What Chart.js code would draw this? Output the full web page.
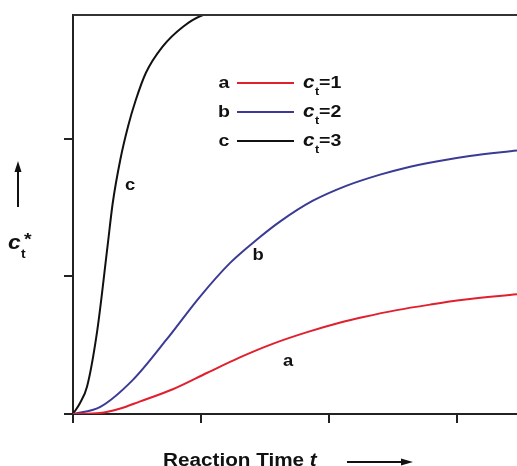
<!DOCTYPE html>
<html><head><meta charset="utf-8">
<script src="https://cdn.jsdelivr.net/npm/chart.js@4"></script>
<style>html,body{margin:0;padding:0;background:#fff}#wrap{width:517px;height:466px}</style>
</head><body><div id="wrap"><canvas id="c" width="517" height="466"></canvas></div>
<script>
// Data (x = reaction time in tick units, y = ct*)
const timeA = [0, 0.21, 0.37, 0.52, 0.78, 1.05, 1.30, 1.56, 1.83, 2.09, 2.27, 2.53, 2.79, 3.05, 3.47];
const valA  = [0, 0.007, 0.04, 0.09, 0.18, 0.30, 0.41, 0.51, 0.595, 0.665, 0.705, 0.755, 0.795, 0.83, 0.87];
const timeB = [0, 0.21, 0.47, 0.73, 0.99, 1.23, 1.44, 1.62, 1.875, 2.14, 2.40, 2.58, 2.84, 3.10, 3.47];
const valB  = [0, 0.05, 0.25, 0.54, 0.85, 1.10, 1.27, 1.40, 1.55, 1.66, 1.74, 1.785, 1.835, 1.875, 1.915];
const timeC = [0, 0.055, 0.11, 0.19, 0.27, 0.31, 0.37, 0.43, 0.49, 0.57, 0.70, 0.86, 1.016, 1.5, 2.5, 3.47];
const valC  = [0, 0.08, 0.2, 0.61, 1.22, 1.53, 1.85, 2.09, 2.28, 2.48, 2.67, 2.815, 2.90, 2.97, 3.0, 3.0];
const xTicks = [0, 1, 2, 3];
const yTicks = [0, 1, 2];
const seriesNames = ['a', 'b', 'c'];
const seriesParams = ['1', '2', '3'];
const colors = ['#e0202e', '#3b3b96', '#111111'];

const pts = (xs, ys) => xs.map((x, i) => ({x, y: ys[i]}));
const FONT = '"Liberation Sans", Arial, sans-serif';
const SX = 1.15; // horizontal stretch of the lettering

function txt(ctx, s, x, y, font, align) {
  ctx.save();
  ctx.font = font; ctx.textAlign = align || 'left';
  ctx.translate(x, y); ctx.scale(SX, 1);
  ctx.fillText(s, 0, 0);
  const w = ctx.measureText(s).width * SX;
  ctx.restore();
  return w;
}

const annot = {
  id: 'annot',
  afterDraw(chart) {
    const ctx = chart.ctx, a = chart.chartArea;
    ctx.save();
    ctx.strokeStyle = '#333'; ctx.lineWidth = 2;
    ctx.beginPath(); ctx.moveTo(a.left, a.top); ctx.lineTo(a.right, a.top); ctx.stroke();
    ctx.fillStyle = '#111';
    ctx.textBaseline = 'middle';
    // curve labels
    txt(ctx, 'c', 130, 186, 'bold 16px ' + FONT, 'center');
    txt(ctx, 'b', 258, 256, 'bold 16px ' + FONT, 'center');
    txt(ctx, 'a', 288, 362, 'bold 16px ' + FONT, 'center');
    // legend
    const rows = [83, 112, 141];
    rows.forEach((y, i) => {
      ctx.fillStyle = '#111';
      txt(ctx, seriesNames[i], 224, y, 'bold 17px ' + FONT, 'center');
      ctx.strokeStyle = colors[i]; ctx.lineWidth = 2;
      ctx.beginPath(); ctx.moveTo(237, y); ctx.lineTo(294, y); ctx.stroke();
      txt(ctx, 'c', 303, y, 'italic bold 18px ' + FONT);
      txt(ctx, 't', 315, y + 9, 'bold 11px ' + FONT);
      txt(ctx, '=' + seriesParams[i], 319, y, 'bold 17px ' + FONT);
    });
    // y-axis label with arrow
    ctx.strokeStyle = '#111'; ctx.lineWidth = 2;
    ctx.beginPath(); ctx.moveTo(18, 207); ctx.lineTo(18, 170); ctx.stroke();
    ctx.beginPath(); ctx.moveTo(18, 161); ctx.lineTo(14.5, 172); ctx.lineTo(21.5, 172); ctx.closePath(); ctx.fill();
    ctx.textBaseline = 'alphabetic';
    txt(ctx, 'c', 8, 249, 'italic bold 20px ' + FONT);
    txt(ctx, 't', 21, 258, 'bold 12px ' + FONT);
    txt(ctx, '*', 24, 245, 'bold 17px ' + FONT);
    // x-axis label with arrow
    const w = txt(ctx, 'Reaction Time ', 163, 466, 'bold 18px ' + FONT);
    txt(ctx, 't', 163 + w, 466, 'italic bold 18px ' + FONT);
    ctx.beginPath(); ctx.moveTo(347, 462); ctx.lineTo(402, 462); ctx.stroke();
    ctx.beginPath(); ctx.moveTo(413, 462); ctx.lineTo(401, 458.5); ctx.lineTo(401, 465.5); ctx.closePath(); ctx.fill();
    ctx.restore();
  }
};

const mk = (i, xs, ys) => ({
  label: seriesNames[i], data: pts(xs, ys), borderColor: colors[i], borderWidth: 2,
  pointRadius: 0, fill: false, cubicInterpolationMode: 'monotone', showLine: true
});

new Chart(document.getElementById('c'), {
  type: 'scatter',
  data: { datasets: [mk(0, timeA, valA), mk(1, timeB, valB), mk(2, timeC, valC)] },
  options: {
    responsive: false, animation: false, devicePixelRatio: 1,
    layout: { padding: { top: 15, right: 0, left: 0, bottom: 0 } },
    plugins: { legend: { display: false }, tooltip: { enabled: false } },
    scales: {
      x: {
        type: 'linear', min: 0, max: 3.47,
        afterBuildTicks: s => { s.ticks = xTicks.map(v => ({value: v})); },
        afterFit: s => { s.height = 52; },
        ticks: { display: false },
        grid: { drawOnChartArea: false, drawTicks: true, tickLength: 9, color: '#222', lineWidth: 2 },
        border: { display: true, color: '#222', width: 2 }
      },
      y: {
        type: 'linear', min: 0, max: 2.9,
        afterBuildTicks: s => { s.ticks = yTicks.map(v => ({value: v})); },
        afterFit: s => { s.width = 73; },
        ticks: { display: false },
        grid: { drawOnChartArea: false, drawTicks: true, tickLength: 9, color: '#222', lineWidth: 2 },
        border: { display: true, color: '#222', width: 2 }
      }
    }
  },
  plugins: [annot]
});
</script>
</body></html>
